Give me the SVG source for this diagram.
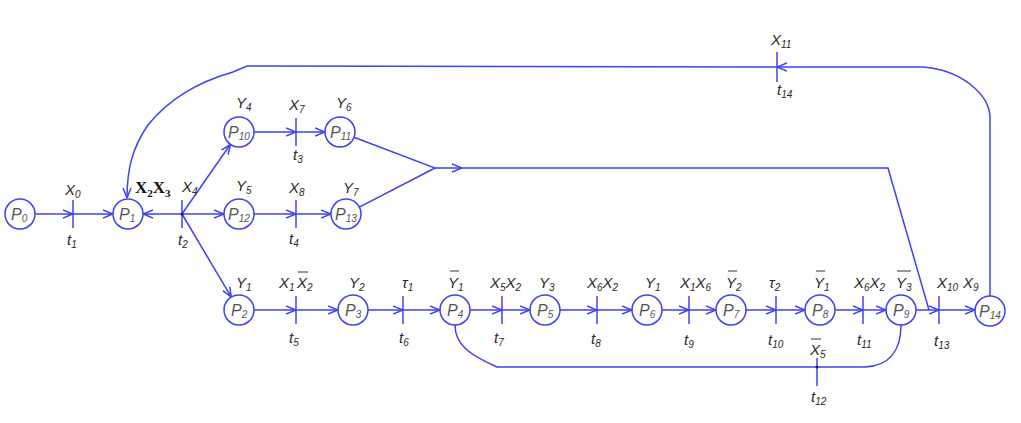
<svg xmlns="http://www.w3.org/2000/svg" width="1021" height="423" viewBox="0 0 1021 423">
<style>
.e{stroke:#4040f0;stroke-width:1.5;fill:none}
.tr{stroke:#4040f0;stroke-width:1.5}
.pl{fill:#fff;stroke:#4040f0;stroke-width:1.5}
.d{fill:#1a1a80}
.l{font-family:"Liberation Sans",Arial,sans-serif;font-style:italic;font-size:15px;fill:#2a2a2a}
.pt{font-family:"Liberation Sans",Arial,sans-serif;font-style:italic;font-size:16px;fill:#555}
.s{font-size:10px}
.b{font-family:"Liberation Serif","Times New Roman",serif;font-weight:bold;font-size:17px;fill:#111}
.bs{font-size:11px}
.ob{stroke:#333;stroke-width:1}
</style>
<defs>
<marker id="a" viewBox="0 0 10 10" refX="10" refY="5" markerWidth="10" markerHeight="10" markerUnits="userSpaceOnUse" orient="auto">
<path d="M0,1 L10,5 L0,9" fill="none" stroke="#4040f0" stroke-width="1.5"/>
</marker>
</defs>
<rect width="1021" height="423" fill="#fff"/>

<g id="connectors">
<path class="e" d="M35,214 L73,214" marker-end="url(#a)"/>
<path class="e" d="M73,214 L113,214" marker-end="url(#a)"/>
<path class="e" d="M182,214 L143,214" marker-end="url(#a)"/>
<path class="e" d="M182,214 L230.4,144.3" marker-end="url(#a)"/>
<path class="e" d="M182,214 L224,214" marker-end="url(#a)"/>
<path class="e" d="M182,214 L231.3,297.1" marker-end="url(#a)"/>
<path class="e" d="M254,132 L296,132" marker-end="url(#a)"/>
<path class="e" d="M296,132 L325,132" marker-end="url(#a)"/>
<path class="e" d="M254,214 L296,214" marker-end="url(#a)"/>
<path class="e" d="M296,214 L331,214" marker-end="url(#a)"/>
<path class="e" d="M354,137.3 L435,168 L359.3,207.1"/>
<path class="e" d="M435,168 L462,168" marker-end="url(#a)"/>
<path class="e" d="M462,168 L888,168 L929,310"/>
<path class="e" d="M254,310 L296,310" marker-end="url(#a)"/>
<path class="e" d="M296,310 L338,310" marker-end="url(#a)"/>
<path class="e" d="M368,310 L403,310" marker-end="url(#a)"/>
<path class="e" d="M403,310 L440,310" marker-end="url(#a)"/>
<path class="e" d="M470,310 L502,310" marker-end="url(#a)"/>
<path class="e" d="M502,310 L530,310" marker-end="url(#a)"/>
<path class="e" d="M560,310 L597,310" marker-end="url(#a)"/>
<path class="e" d="M597,310 L632,310" marker-end="url(#a)"/>
<path class="e" d="M662,310 L689,310" marker-end="url(#a)"/>
<path class="e" d="M689,310 L716,310" marker-end="url(#a)"/>
<path class="e" d="M746,310 L776,310" marker-end="url(#a)"/>
<path class="e" d="M776,310 L805,310" marker-end="url(#a)"/>
<path class="e" d="M835,310 L863,310" marker-end="url(#a)"/>
<path class="e" d="M863,310 L886,310" marker-end="url(#a)"/>
<path class="e" d="M916,310 L939,310" marker-end="url(#a)"/>
<path class="e" d="M939,310 L975,310" marker-end="url(#a)"/>
<path class="e" d="M455,325 C455,345 470,355 497,367 L865,367 C888,366 901,352 901,325"/>
<path class="e" d="M990,296 L990,118 C990,95 962,70 923,67 L777,67" marker-end="url(#a)"/>
<path class="e" d="M777,67 L247,66 L233,72 C198,82 168,100 148,125 C132,148 127,170 127,198" marker-end="url(#a)"/>
</g>

<g id="transitions">
<line class="tr" x1="73" y1="200" x2="73" y2="228"/>
<line class="tr" x1="182" y1="200" x2="182" y2="228"/>
<line class="tr" x1="296" y1="118" x2="296" y2="146"/>
<line class="tr" x1="296" y1="200" x2="296" y2="228"/>
<line class="tr" x1="296" y1="296" x2="296" y2="324"/>
<line class="tr" x1="403" y1="296" x2="403" y2="324"/>
<line class="tr" x1="502" y1="296" x2="502" y2="324"/>
<line class="tr" x1="597" y1="296" x2="597" y2="324"/>
<line class="tr" x1="689" y1="296" x2="689" y2="324"/>
<line class="tr" x1="776" y1="296" x2="776" y2="324"/>
<line class="tr" x1="863" y1="296" x2="863" y2="324"/>
<line class="tr" x1="939" y1="296" x2="939" y2="324"/>
<line class="tr" x1="817" y1="358" x2="817" y2="386"/>
<line class="tr" x1="777" y1="52" x2="777" y2="82"/>
<circle class="d" cx="182" cy="214" r="1.5"/>
<circle class="d" cx="817" cy="367" r="1.5"/>
</g>

<g id="P0"><circle class="pl" cx="20" cy="214" r="15"/><text class="pt" x="11" y="220">P<tspan class="s" dy="2">0</tspan></text></g>
<g id="P1"><circle class="pl" cx="128" cy="214" r="15"/><text class="pt" x="119" y="220">P<tspan class="s" dy="2">1</tspan></text></g>
<g id="P10"><circle class="pl" cx="239" cy="132" r="15"/><text class="pt" x="228" y="138">P<tspan class="s" dy="2">10</tspan></text></g>
<g id="P11"><circle class="pl" cx="340" cy="132" r="15"/><text class="pt" x="330" y="138">P<tspan class="s" dy="2">11</tspan></text></g>
<g id="P12"><circle class="pl" cx="239" cy="214" r="15"/><text class="pt" x="228" y="220">P<tspan class="s" dy="2">12</tspan></text></g>
<g id="P13"><circle class="pl" cx="346" cy="214" r="15"/><text class="pt" x="335" y="220">P<tspan class="s" dy="2">13</tspan></text></g>
<g id="P2"><circle class="pl" cx="239" cy="310" r="15"/><text class="pt" x="231" y="316">P<tspan class="s" dy="2">2</tspan></text></g>
<g id="P3"><circle class="pl" cx="353" cy="310" r="15"/><text class="pt" x="345" y="316">P<tspan class="s" dy="2">3</tspan></text></g>
<g id="P4"><circle class="pl" cx="455" cy="310" r="15"/><text class="pt" x="447" y="316">P<tspan class="s" dy="2">4</tspan></text></g>
<g id="P5"><circle class="pl" cx="545" cy="310" r="15"/><text class="pt" x="537" y="316">P<tspan class="s" dy="2">5</tspan></text></g>
<g id="P6"><circle class="pl" cx="647" cy="310" r="15"/><text class="pt" x="639" y="316">P<tspan class="s" dy="2">6</tspan></text></g>
<g id="P7"><circle class="pl" cx="731" cy="310" r="15"/><text class="pt" x="723" y="316">P<tspan class="s" dy="2">7</tspan></text></g>
<g id="P8"><circle class="pl" cx="820" cy="310" r="15"/><text class="pt" x="812" y="316">P<tspan class="s" dy="2">8</tspan></text></g>
<g id="P9"><circle class="pl" cx="901" cy="310" r="15"/><text class="pt" x="893" y="316">P<tspan class="s" dy="2">9</tspan></text></g>
<g id="P14"><circle class="pl" cx="990" cy="311" r="15"/><text class="pt" x="979" y="317">P<tspan class="s" dy="2">14</tspan></text></g>

<g id="labels">
<text class="l" x="65" y="195">X<tspan class="s" dy="3">0</tspan></text>
<text class="l" x="67" y="245">t<tspan class="s" dy="3">1</tspan></text>
<text class="b" x="135" y="193">X<tspan class="bs" dy="4">2</tspan><tspan dy="-4">X</tspan><tspan class="bs" dy="4">3</tspan></text>
<text class="l" x="182" y="192">X<tspan class="s" dy="3">4</tspan></text>
<text class="l" x="178" y="245">t<tspan class="s" dy="3">2</tspan></text>
<text class="l" x="236" y="108">Y<tspan class="s" dy="3">4</tspan></text>
<text class="l" x="289" y="110">X<tspan class="s" dy="3">7</tspan></text>
<text class="l" x="336" y="108">Y<tspan class="s" dy="3">6</tspan></text>
<text class="l" x="293" y="160">t<tspan class="s" dy="3">3</tspan></text>
<text class="l" x="236" y="191">Y<tspan class="s" dy="3">5</tspan></text>
<text class="l" x="289" y="193">X<tspan class="s" dy="3">8</tspan></text>
<text class="l" x="343" y="193">Y<tspan class="s" dy="3">7</tspan></text>
<text class="l" x="289" y="244">t<tspan class="s" dy="3">4</tspan></text>
<text class="l" x="236" y="288">Y<tspan class="s" dy="3">1</tspan></text>
<text class="l" x="279" y="288">X<tspan class="s" dy="3">1</tspan></text>
<text class="l" x="297" y="288">X<tspan class="s" dy="3">2</tspan></text>
<line class="ob" x1="298" y1="272" x2="308" y2="272"/>
<text class="l" x="289" y="343">t<tspan class="s" dy="3">5</tspan></text>
<text class="l" x="349" y="288">Y<tspan class="s" dy="3">2</tspan></text>
<text class="l" x="402" y="288">τ<tspan class="s" dy="3">1</tspan></text>
<text class="l" x="399" y="343">t<tspan class="s" dy="3">6</tspan></text>
<text class="l" x="448" y="288">Y<tspan class="s" dy="3">1</tspan></text>
<line class="ob" x1="450" y1="271" x2="459" y2="271"/>
<text class="l" x="490" y="288">X<tspan class="s" dy="3">5</tspan><tspan dy="-3">X</tspan><tspan class="s" dy="3">2</tspan></text>
<text class="l" x="494" y="343">t<tspan class="s" dy="3">7</tspan></text>
<text class="l" x="539" y="288">Y<tspan class="s" dy="3">3</tspan></text>
<text class="l" x="587" y="288">X<tspan class="s" dy="3">6</tspan><tspan dy="-3">X</tspan><tspan class="s" dy="3">2</tspan></text>
<text class="l" x="591" y="344">t<tspan class="s" dy="3">8</tspan></text>
<text class="l" x="645" y="288">Y<tspan class="s" dy="3">1</tspan></text>
<text class="l" x="680" y="288">X<tspan class="s" dy="3">1</tspan><tspan dy="-3">X</tspan><tspan class="s" dy="3">6</tspan></text>
<text class="l" x="684" y="345">t<tspan class="s" dy="3">9</tspan></text>
<text class="l" x="726" y="288">Y<tspan class="s" dy="3">2</tspan></text>
<line class="ob" x1="728" y1="271" x2="737" y2="271"/>
<text class="l" x="769" y="288">τ<tspan class="s" dy="3">2</tspan></text>
<text class="l" x="768" y="345">t<tspan class="s" dy="3">10</tspan></text>
<text class="l" x="814" y="288">Y<tspan class="s" dy="3">1</tspan></text>
<line class="ob" x1="816" y1="271" x2="825" y2="271"/>
<text class="l" x="854" y="288">X<tspan class="s" dy="3">6</tspan><tspan dy="-3">X</tspan><tspan class="s" dy="3">2</tspan></text>
<text class="l" x="857" y="345">t<tspan class="s" dy="3">11</tspan></text>
<text class="l" x="896" y="288">Y<tspan class="s" dy="3">3</tspan></text>
<line class="ob" x1="897" y1="271" x2="911" y2="271"/>
<text class="l" x="937" y="288">X<tspan class="s" dy="3">10</tspan></text>
<text class="l" x="963" y="288">X<tspan class="s" dy="3">9</tspan></text>
<text class="l" x="934" y="346">t<tspan class="s" dy="3">13</tspan></text>
<text class="l" x="810" y="355">X<tspan class="s" dy="3">5</tspan></text>
<line class="ob" x1="811" y1="339" x2="821" y2="339"/>
<text class="l" x="811" y="402">t<tspan class="s" dy="3">12</tspan></text>
<text class="l" x="771" y="45">X<tspan class="s" dy="3">11</tspan></text>
<text class="l" x="777" y="95">t<tspan class="s" dy="3">14</tspan></text>
</g>
</svg>
